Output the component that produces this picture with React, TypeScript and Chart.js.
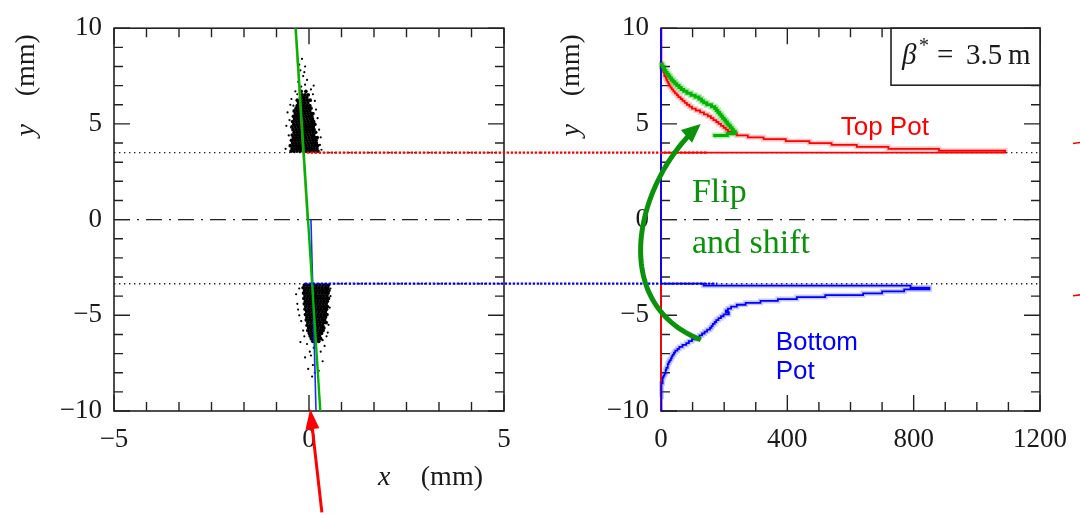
import React, { useEffect, useRef } from "react";
import { Chart, registerables } from "chart.js";
Chart.register(...registerables);

const SERIF = "'Liberation Serif', 'Times New Roman', serif";
const SANS = "'Liberation Sans', Arial, sans-serif";

// ---------- axis ticks ----------
const xPosLabels = [-5, 0, 5];
const xPosMinor = [-4.1667, -3.3333, -2.5, -1.6667, -0.8333, 0.8333, 1.6667, 2.5, 3.3333, 4.1667];
const yLabels = [-10, -5, 0, 5, 10];
const yMinor = [-9, -8, -7, -6, -4, -3, -2, -1, 1, 2, 3, 4, 6, 7, 8, 9];
const countLabels = [0, 400, 800, 1200];
const countMinor = [100, 200, 300, 500, 600, 700, 900, 1000, 1100];

// ---------- pot edges & links ----------
const topPotEdge = 3.5;
const bottomPotEdge = -3.35;
const topLinkStartX = -0.06;
const bottomLinkStartX = -0.11;
const topLinkEndCount = 145;
const bottomLinkEndCount = 178;

// ---------- fitted lines (x, y) ----------
const fitCombinedX = [-0.34, 0.29];
const fitCombinedY = [10, -10];
const fitBottomX = [0.05, 0.18];
const fitBottomY = [0, -10];
const fitTopX = [-0.36, -0.05];
const fitTopY = [10, 0];

// ---------- scatter: dense cores (row y, xs) ----------
const topCoreRows: [number, number[]][] = [
  [3.58, [-0.46, -0.39, -0.31, -0.23, -0.15, -0.07, 0.01, 0.09, 0.17, 0.23]],
  [3.72, [-0.43, -0.35, -0.27, -0.2, -0.12, -0.04, 0.04, 0.12, 0.2]],
  [3.86, [-0.48, -0.4, -0.32, -0.24, -0.16, -0.08, 0.0, 0.08, 0.15, 0.22]],
  [4.0, [-0.42, -0.34, -0.26, -0.18, -0.1, -0.02, 0.06, 0.13, 0.19]],
  [4.14, [-0.45, -0.37, -0.29, -0.21, -0.13, -0.05, 0.03, 0.11, 0.18]],
  [4.28, [-0.4, -0.32, -0.24, -0.16, -0.08, 0.0, 0.08, 0.15, 0.21]],
  [4.42, [-0.43, -0.35, -0.27, -0.19, -0.11, -0.03, 0.05, 0.12]],
  [4.56, [-0.38, -0.3, -0.22, -0.14, -0.06, 0.02, 0.1, 0.17]],
  [4.7, [-0.41, -0.33, -0.25, -0.17, -0.09, -0.01, 0.07, 0.13]],
  [4.84, [-0.44, -0.36, -0.28, -0.2, -0.12, -0.04, 0.04, 0.11]],
  [4.98, [-0.39, -0.31, -0.23, -0.15, -0.07, 0.01, 0.08, 0.15]],
  [5.12, [-0.42, -0.34, -0.26, -0.18, -0.1, -0.02, 0.06, 0.12]],
  [5.26, [-0.37, -0.29, -0.21, -0.13, -0.05, 0.03, 0.09]],
  [5.4, [-0.4, -0.32, -0.24, -0.16, -0.08, 0.0, 0.07]],
  [5.54, [-0.35, -0.27, -0.19, -0.11, -0.03, 0.05, 0.1]],
  [5.68, [-0.38, -0.3, -0.22, -0.14, -0.06, 0.02]],
  [5.82, [-0.33, -0.25, -0.17, -0.09, -0.01, 0.05]],
  [5.96, [-0.3, -0.22, -0.14, -0.06, 0.02]],
  [6.1, [-0.27, -0.19, -0.11, -0.03]],
  [6.24, [-0.3, -0.2, -0.12, -0.04, 0.03]],
  [6.38, [-0.22, -0.14, -0.06]],
  [6.52, [-0.18, -0.1, -0.02]],
  [6.7, [-0.2, -0.08]],
];
const bottomCoreRows: [number, number[]][] = [
  [-3.42, [-0.12, -0.04, 0.04, 0.12, 0.2, 0.28, 0.36, 0.44, 0.5]],
  [-3.56, [-0.15, -0.07, 0.01, 0.09, 0.17, 0.25, 0.33, 0.41, 0.48]],
  [-3.7, [-0.11, -0.03, 0.05, 0.13, 0.21, 0.29, 0.37, 0.45, 0.51]],
  [-3.84, [-0.14, -0.06, 0.02, 0.1, 0.18, 0.26, 0.34, 0.42, 0.49]],
  [-3.98, [-0.1, -0.02, 0.06, 0.14, 0.22, 0.3, 0.38, 0.46]],
  [-4.12, [-0.13, -0.05, 0.03, 0.11, 0.19, 0.27, 0.35, 0.43, 0.5]],
  [-4.26, [-0.09, -0.01, 0.07, 0.15, 0.23, 0.31, 0.39, 0.47]],
  [-4.4, [-0.12, -0.04, 0.04, 0.12, 0.2, 0.28, 0.36, 0.44]],
  [-4.54, [-0.08, 0.0, 0.08, 0.16, 0.24, 0.32, 0.4, 0.47]],
  [-4.68, [-0.1, -0.02, 0.06, 0.14, 0.22, 0.3, 0.38, 0.45]],
  [-4.82, [-0.06, 0.02, 0.1, 0.18, 0.26, 0.34, 0.42]],
  [-4.96, [-0.09, -0.01, 0.07, 0.15, 0.23, 0.31, 0.39, 0.46]],
  [-5.1, [-0.05, 0.03, 0.11, 0.19, 0.27, 0.35, 0.42]],
  [-5.24, [-0.07, 0.01, 0.09, 0.17, 0.25, 0.33, 0.4]],
  [-5.38, [-0.03, 0.05, 0.13, 0.21, 0.29, 0.37, 0.44]],
  [-5.52, [-0.05, 0.03, 0.11, 0.19, 0.27, 0.35]],
  [-5.66, [-0.01, 0.07, 0.15, 0.23, 0.31, 0.38]],
  [-5.8, [-0.03, 0.05, 0.13, 0.21, 0.29, 0.36]],
  [-5.94, [0.01, 0.09, 0.17, 0.25, 0.32]],
  [-6.08, [0.03, 0.11, 0.19, 0.27]],
  [-6.22, [0.06, 0.14, 0.22, 0.3]],
  [-6.36, [0.1, 0.18, 0.25]],
];
const topOutliers: [number, number][] = [
  [-0.55, 5.6], [-0.58, 4.9], [0.3, 4.3], [0.28, 3.9], [-0.52, 4.4], [0.22, 5.3], [-0.45, 6.3],
  [0.15, 6.2], [-0.35, 6.7], [-0.2, 6.95], [-0.1, 7.05], [0.05, 6.8], [-0.28, 7.2], [-0.15, 7.5],
  [-0.05, 7.3], [-0.22, 7.8], [-0.1, 8.0], [-0.25, 8.1], [-0.12, 7.7], [-0.18, 8.4], [-0.3, 6.55],
  [0.1, 6.55], [-0.4, 5.95], [0.18, 5.75], [-0.5, 5.2], [0.26, 4.7], [-0.6, 3.7], [0.32, 3.65],
  [-0.48, 6.0], [0.12, 7.0],
];
const bottomOutliers: [number, number][] = [
  [-0.33, -3.9], [-0.3, -4.4], [-0.25, -5.0], [-0.2, -5.3], [-0.28, -4.7], [-0.15, -5.8], [-0.12, -6.1],
  [0.55, -4.0], [0.53, -4.6], [0.5, -5.5], [0.45, -6.1], [0.4, -6.6], [-0.05, -6.5], [0.12, -6.7],
  [0.3, -6.9], [0.05, -7.1], [0.2, -7.3], [0.35, -7.4], [0.1, -7.6], [-0.02, -7.8], [0.15, -8.0],
  [0.08, -8.2], [-0.22, -6.4], [0.25, -7.9], [0.55, -3.6], [-0.25, -3.6], [0.48, -5.9], [0.02, -6.9],
  [0.35, -6.3], [-0.1, -7.2],
];

// ---------- histograms (bin centre y, counts), bin width 0.1 mm ----------
const BIN = 0.1;
const redBinY = [3.55, 3.65, 3.75, 3.85, 3.95, 4.05, 4.15, 4.25, 4.35, 4.45, 4.55, 4.65, 4.75, 4.85, 4.95,
  5.05, 5.15, 5.25, 5.35, 5.45, 5.55, 5.65, 5.75, 5.85, 5.95, 6.05, 6.15, 6.25, 6.35, 6.45, 6.55, 6.65,
  6.75, 6.85, 6.95, 7.05, 7.15, 7.25, 7.35, 7.45, 7.55, 7.65, 7.75, 7.85, 7.95, 8.05, 8.15, 8.25];
const redCounts = [1090, 880, 720, 620, 540, 470, 395, 325, 275, 240, 222, 212, 205, 198, 190,
  182, 175, 166, 158, 148, 136, 124, 110, 98, 90, 82, 75, 68, 62, 55, 50, 44,
  39, 34, 30, 26, 23, 20, 17, 15, 12, 10, 8, 6, 4, 3, 2, 1];
const blueBinY = [-3.4, -3.5, -3.6, -3.7, -3.8, -3.9, -4.0, -4.1, -4.2, -4.3, -4.4, -4.5, -4.6, -4.7, -4.8,
  -4.9, -5.0, -5.1, -5.2, -5.3, -5.4, -5.5, -5.6, -5.7, -5.8, -5.9, -6.0, -6.1, -6.2, -6.3, -6.4, -6.5,
  -6.6, -6.7, -6.8, -6.9, -7.0, -7.1, -7.2, -7.3, -7.4, -7.5, -7.6, -7.7, -7.8, -7.9, -8.0, -8.1, -8.2,
  -8.3, -8.4, -8.5, -8.6, -8.7, -8.8, -8.9, -9.0, -9.1, -9.2];
const blueCounts = [135, 790, 850, 770, 700, 640, 520, 430, 370, 315, 268, 240, 222, 212, 205,
  215, 198, 190, 182, 175, 170, 164, 160, 155, 146, 138, 130, 122, 110, 98, 88, 80,
  68, 58, 52, 45, 41, 37, 34, 31, 27, 24, 22, 20, 17, 15, 14, 11, 8,
  6, 5, 4, 3, 2, 2, 1, 1, 1, 1];
const greenBinY = [4.35, 4.45, 4.55, 4.65, 4.75, 4.85, 4.95, 5.05, 5.15, 5.25, 5.35, 5.45, 5.55, 5.65,
  5.75, 5.85, 5.95, 6.05, 6.15, 6.25, 6.35, 6.45, 6.55, 6.65, 6.75, 6.85, 6.95, 7.05, 7.15, 7.25, 7.35,
  7.45, 7.55, 7.65, 7.75, 7.85, 7.95, 8.05, 8.15];
const greenCounts = [170, 210, 235, 230, 225, 220, 215, 210, 205, 200, 195, 190, 185, 180,
  175, 170, 160, 145, 135, 128, 120, 108, 95, 82, 72, 64, 57, 50, 44, 38, 33,
  28, 24, 19, 15, 11, 7, 4, 2];

// ---------- annotation anchors (data coordinates of the right panel) ----------
const arcCount = [126, -172, -80, 126];
const arcY = [-6.28, -4.34, 2.04, 5.0];
const flipAt = [98, 0.92];
const shiftAt = [98, -1.73];
const topPotAt = [569, 4.44];
const bottomAt = [363, -6.79];
const bottomPotAt = [363, -8.32];
// red arrow in left panel (tail, tip)
const redArrowX = [0.33, 0.03];
const redArrowY = [-15.3, -9.9];

// ---------- helpers ----------
const fmt = (v: number) => (v < 0 ? "\u2212" + Math.abs(v) : String(v));
const toPts = (rows: [number, number[]][]) => rows.flatMap(([y, xs]) => xs.map((x) => ({ x, y })));
const pairPts = (arr: [number, number][]) => arr.map(([x, y]) => ({ x, y }));
const linePts = (xs: number[], ys: number[]) => xs.map((x, i) => ({ x, y: ys[i] }));

function outline(centers: number[], counts: number[], axis: boolean) {
  const idx = centers.map((_, i) => i).sort((a, b) => centers[a] - centers[b]);
  const h = BIN / 2;
  const pts: { x: number; y: number }[] = [];
  const first = centers[idx[0]] - h;
  const last = centers[idx[idx.length - 1]] + h;
  if (axis) pts.push({ x: 0, y: -10 }, { x: 0, y: first });
  for (const i of idx) pts.push({ x: counts[i], y: centers[i] - h }, { x: counts[i], y: centers[i] + h });
  if (axis) pts.push({ x: 0, y: last }, { x: 0, y: 10 });
  return pts;
}

function hline(ctx: CanvasRenderingContext2D, x1: number, x2: number, y: number, color: string, w: number, dash: number[]) {
  ctx.save();
  ctx.strokeStyle = color;
  ctx.lineWidth = w;
  ctx.setLineDash(dash);
  ctx.beginPath();
  ctx.moveTo(x1, y);
  ctx.lineTo(x2, y);
  ctx.stroke();
  ctx.restore();
}

function drawFrame(chart: any, xMajor: number[], xMinor: number[]) {
  const { ctx, chartArea: a, scales } = chart;
  const sx = scales.x, sy = scales.y;
  ctx.save();
  ctx.strokeStyle = "#222";
  ctx.lineWidth = 1.6;
  ctx.strokeRect(a.left, a.top, a.right - a.left, a.bottom - a.top);
  ctx.lineWidth = 1.4;
  ctx.beginPath();
  const xt = (v: number, len: number) => {
    const p = sx.getPixelForValue(v);
    ctx.moveTo(p, a.bottom); ctx.lineTo(p, a.bottom - len);
    ctx.moveTo(p, a.top); ctx.lineTo(p, a.top + len);
  };
  const yt = (v: number, len: number) => {
    const p = sy.getPixelForValue(v);
    ctx.moveTo(a.left, p); ctx.lineTo(a.left + len, p);
    ctx.moveTo(a.right, p); ctx.lineTo(a.right - len, p);
  };
  xMajor.forEach((v) => xt(v, 16));
  xMinor.forEach((v) => xt(v, 9));
  yLabels.forEach((v) => yt(v, 16));
  yMinor.forEach((v) => yt(v, 9));
  ctx.stroke();
  ctx.restore();
}

function drawYTitle(chart: any, offset: number) {
  const { ctx, chartArea: a } = chart;
  ctx.save();
  ctx.translate(a.left - offset, 0);
  ctx.rotate(-Math.PI / 2);
  ctx.fillStyle = "#1a1a1a";
  ctx.textAlign = "center";
  ctx.textBaseline = "middle";
  ctx.font = `italic 28px ${SERIF}`;
  ctx.fillText("y", -(a.top + 102), 0);
  ctx.font = `28px ${SERIF}`;
  ctx.fillText("(mm)", -(a.top + 37), 0);
  ctx.restore();
}

function arrowHead(ctx: CanvasRenderingContext2D, tipX: number, tipY: number, ang: number, len: number, wid: number, color: string) {
  const bx = tipX - len * Math.cos(ang), by = tipY - len * Math.sin(ang);
  ctx.save();
  ctx.fillStyle = color;
  ctx.beginPath();
  ctx.moveTo(tipX, tipY);
  ctx.lineTo(bx + (wid / 2) * Math.sin(ang), by - (wid / 2) * Math.cos(ang));
  ctx.lineTo(bx - (wid / 2) * Math.sin(ang), by + (wid / 2) * Math.cos(ang));
  ctx.closePath();
  ctx.fill();
  ctx.restore();
}

function axisCfg(min: number, max: number, labels: number[], padding: number, fit: (s: any) => void) {
  return {
    type: "linear" as const,
    min,
    max,
    grid: { display: false, drawTicks: false },
    border: { display: false },
    ticks: {
      color: "#1a1a1a",
      font: { family: SERIF, size: 27 },
      padding,
      maxRotation: 0,
      autoSkip: false,
      callback: (v: any) => fmt(Number(v)),
    },
    afterBuildTicks: (s: any) => {
      s.ticks = labels.map((v) => ({ value: v }));
    },
    afterFit: fit,
  };
}

// ---------- left panel ----------
function leftConfig(): any {
  const deco = {
    id: "leftDeco",
    beforeDatasetsDraw(chart: any) {
      const { ctx, chartArea: a, scales } = chart;
      const sy = scales.y;
      hline(ctx, a.left, a.right, sy.getPixelForValue(topPotEdge), "#222", 1.4, [1.4, 3.6]);
      hline(ctx, a.left, a.right, sy.getPixelForValue(bottomPotEdge), "#222", 1.4, [1.4, 3.6]);
      hline(ctx, a.left, a.right, sy.getPixelForValue(0), "#222", 1.3, [16, 7, 2, 7]);
      drawFrame(chart, xPosLabels, xPosMinor);
    },
    afterDatasetsDraw(chart: any) {
      const { ctx, chartArea: a, scales } = chart;
      const sx = scales.x, sy = scales.y;
      hline(ctx, sx.getPixelForValue(topLinkStartX), chart.width, sy.getPixelForValue(topPotEdge), "#ff0000", 2.2, [2.4, 1.6]);
      hline(ctx, sx.getPixelForValue(bottomLinkStartX), chart.width, sy.getPixelForValue(bottomPotEdge), "#0000ff", 2.2, [2.4, 1.6]);
      drawYTitle(chart, 87);
      // x title
      ctx.save();
      ctx.fillStyle = "#1a1a1a";
      ctx.textBaseline = "alphabetic";
      ctx.font = `italic 28px ${SERIF}`;
      ctx.textAlign = "left";
      ctx.fillText("x", a.right - 126, a.bottom + 74);
      ctx.font = `28px ${SERIF}`;
      ctx.textAlign = "right";
      ctx.fillText("(mm)", a.right - 21, a.bottom + 74);
      ctx.restore();
      // red arrow
      const x0 = sx.getPixelForValue(redArrowX[0]), y0 = sy.getPixelForValue(redArrowY[0]);
      const x1 = sx.getPixelForValue(redArrowX[1]), y1 = sy.getPixelForValue(redArrowY[1]);
      const ang = Math.atan2(y1 - y0, x1 - x0);
      ctx.save();
      ctx.strokeStyle = "#ff0000";
      ctx.lineWidth = 3;
      ctx.beginPath();
      ctx.moveTo(x0, y0);
      ctx.lineTo(x1 - 15 * Math.cos(ang), y1 - 15 * Math.sin(ang));
      ctx.stroke();
      ctx.restore();
      arrowHead(ctx, x1, y1, ang, 20, 14, "#ff0000");
    },
  };
  return {
    type: "scatter",
    data: {
      datasets: [
        { data: linePts(fitCombinedX, fitCombinedY), showLine: true, borderColor: "#00b400", borderWidth: 2.4, pointRadius: 0 },
        { data: linePts(fitBottomX, fitBottomY), showLine: true, borderColor: "#1a2cff", borderWidth: 1.6, pointRadius: 0 },
        { data: linePts(fitTopX, fitTopY), showLine: true, borderColor: "rgba(200,130,70,0.75)", borderWidth: 1.4, pointRadius: 0 },
        { data: pairPts(topOutliers).concat(pairPts(bottomOutliers)), pointRadius: 1.1, pointBackgroundColor: "#000", pointBorderWidth: 0 },
        { data: toPts(topCoreRows).concat(toPts(bottomCoreRows)), pointRadius: 1.85, pointBackgroundColor: "#000", pointBorderWidth: 0 },
      ],
    },
    options: {
      animation: false,
      responsive: false,
      devicePixelRatio: 1,
      events: [],
      layout: { padding: { top: 19, right: 36, left: 0, bottom: 0 } },
      plugins: { legend: { display: false }, tooltip: { enabled: false } },
      scales: {
        x: axisCfg(-5, 5, xPosLabels, 13, (s: any) => { s.height = 104; }),
        y: axisCfg(-10, 10, yLabels, 12, (s: any) => { s.width = 114; }),
      },
    },
    plugins: [deco],
  };
}

// ---------- right panel ----------
function rightConfig(): any {
  const deco = {
    id: "rightDeco",
    beforeDatasetsDraw(chart: any) {
      const { ctx, chartArea: a, scales } = chart;
      const sy = scales.y;
      hline(ctx, a.left, a.right, sy.getPixelForValue(topPotEdge), "#222", 1.4, [1.4, 3.6]);
      hline(ctx, a.left, a.right, sy.getPixelForValue(bottomPotEdge), "#222", 1.4, [1.4, 3.6]);
      hline(ctx, a.left, a.right, sy.getPixelForValue(0), "#222", 1.3, [16, 7, 2, 7]);
      drawFrame(chart, countLabels, countMinor);
    },
    afterDatasetsDraw(chart: any) {
      const { ctx, chartArea: a, scales } = chart;
      const sx = scales.x, sy = scales.y;
      const P = (c: number, y: number) => [sx.getPixelForValue(c), sy.getPixelForValue(y)];
      hline(ctx, 0, sx.getPixelForValue(topLinkEndCount), sy.getPixelForValue(topPotEdge), "#ff0000", 2.2, [2.4, 1.6]);
      hline(ctx, 0, sx.getPixelForValue(bottomLinkEndCount), sy.getPixelForValue(bottomPotEdge), "#0000ff", 2.2, [2.4, 1.6]);
      drawYTitle(chart, 89);

      // beta box
      const bx = a.right - 149, by = a.top;
      ctx.save();
      ctx.fillStyle = "#fff";
      ctx.fillRect(bx, by, 149, 57);
      ctx.strokeStyle = "#222";
      ctx.lineWidth = 1.6;
      ctx.strokeRect(bx, by, 149, 57);
      ctx.fillStyle = "#1a1a1a";
      ctx.textAlign = "left";
      ctx.textBaseline = "alphabetic";
      ctx.font = `italic 29px ${SERIF}`;
      ctx.fillText("\u03b2", bx + 11, by + 36);
      ctx.font = `20px ${SERIF}`;
      ctx.fillText("*", bx + 28, by + 24);
      ctx.font = `29px ${SERIF}`;
      ctx.fillText("=", bx + 46, by + 36);
      ctx.fillText("3.5", bx + 75, by + 36);
      ctx.fillText("m", bx + 117, by + 36);
      ctx.restore();

      // labels
      ctx.save();
      ctx.textAlign = "left";
      ctx.textBaseline = "alphabetic";
      ctx.font = `26px ${SANS}`;
      ctx.fillStyle = "#ff0000";
      let p = P(topPotAt[0], topPotAt[1]);
      ctx.fillText("Top Pot", p[0], p[1]);
      ctx.fillStyle = "#0000ff";
      p = P(bottomAt[0], bottomAt[1]);
      ctx.fillText("Bottom", p[0], p[1]);
      p = P(bottomPotAt[0], bottomPotAt[1]);
      ctx.fillText("Pot", p[0], p[1]);
      ctx.fillStyle = "#0a930a";
      ctx.font = `34px ${SERIF}`;
      p = P(flipAt[0], flipAt[1]);
      ctx.fillText("Flip", p[0], p[1]);
      p = P(shiftAt[0], shiftAt[1]);
      ctx.fillText("and shift", p[0], p[1]);
      ctx.restore();

      // green curved arrow
      const c = arcCount.map((v, i) => P(v, arcY[i]));
      const bez = (t: number) => {
        const u = 1 - t;
        const k = [u * u * u, 3 * u * u * t, 3 * u * t * t, t * t * t];
        return [k[0] * c[0][0] + k[1] * c[1][0] + k[2] * c[2][0] + k[3] * c[3][0],
                k[0] * c[0][1] + k[1] * c[1][1] + k[2] * c[2][1] + k[3] * c[3][1]];
      };
      ctx.save();
      ctx.strokeStyle = "#0a930a";
      ctx.lineWidth = 5;
      ctx.beginPath();
      for (let i = 0; i <= 60; i++) {
        const q = bez((i / 60) * 0.93);
        if (i === 0) ctx.moveTo(q[0], q[1]); else ctx.lineTo(q[0], q[1]);
      }
      ctx.stroke();
      ctx.restore();
      const angG = Math.atan2(c[3][1] - c[2][1], c[3][0] - c[2][0]);
      arrowHead(ctx, c[3][0], c[3][1], angG, 19, 17, "#0a930a");

      // cut-off red marks at the right edge
      ctx.save();
      ctx.strokeStyle = "#ff0000";
      ctx.lineWidth = 1.6;
      ctx.beginPath();
      ctx.moveTo(chart.width - 7, sy.getPixelForValue(3.98));
      ctx.lineTo(chart.width, sy.getPixelForValue(4.03));
      ctx.moveTo(chart.width - 7, sy.getPixelForValue(-3.98));
      ctx.lineTo(chart.width, sy.getPixelForValue(-3.93));
      ctx.stroke();
      ctx.restore();
    },
  };
  const hist = (pts: any[], color: string, w: number) => ({
    data: pts, showLine: true, borderColor: color, borderWidth: w, pointRadius: 0, clip: false,
  });
  return {
    type: "scatter",
    data: {
      datasets: [
        hist(outline(greenBinY, greenCounts, false), "#00b400", 3),
        hist(outline(blueBinY, blueCounts, true), "#0000ff", 1.8),
        hist(outline(redBinY, redCounts, true), "#ff0000", 1.8),
        hist(outline(greenBinY, greenCounts, false), "rgba(0,190,0,0.3)", 6),
        hist(outline(blueBinY, blueCounts, false), "rgba(60,60,255,0.28)", 5),
        hist(outline(redBinY, redCounts, false), "rgba(255,60,60,0.28)", 5),
      ],
    },
    options: {
      animation: false,
      responsive: false,
      devicePixelRatio: 1,
      events: [],
      layout: { padding: { top: 19, right: 29, left: 0, bottom: 0 } },
      plugins: { legend: { display: false }, tooltip: { enabled: false } },
      scales: {
        x: axisCfg(0, 1200, countLabels, 13, (s: any) => { s.height = 104; }),
        y: axisCfg(-10, 10, yLabels, 12, (s: any) => { s.width = 121; }),
      },
    },
    plugins: [deco],
  };
}

export default function App() {
  const leftRef = useRef<HTMLCanvasElement>(null);
  const rightRef = useRef<HTMLCanvasElement>(null);
  useEffect(() => {
    const l = new Chart(leftRef.current as HTMLCanvasElement, leftConfig());
    const r = new Chart(rightRef.current as HTMLCanvasElement, rightConfig());
    return () => {
      l.destroy();
      r.destroy();
    };
  }, []);
  return (
    <div style={{ position: "absolute", left: 0, top: 0, width: 1080, height: 515, background: "#fff", overflow: "hidden" }}>
      <canvas ref={leftRef} width={540} height={515} style={{ position: "absolute", left: 0, top: 0, width: 540, height: 515 }} />
      <canvas ref={rightRef} width={540} height={515} style={{ position: "absolute", left: 540, top: 0, width: 540, height: 515 }} />
    </div>
  );
}
